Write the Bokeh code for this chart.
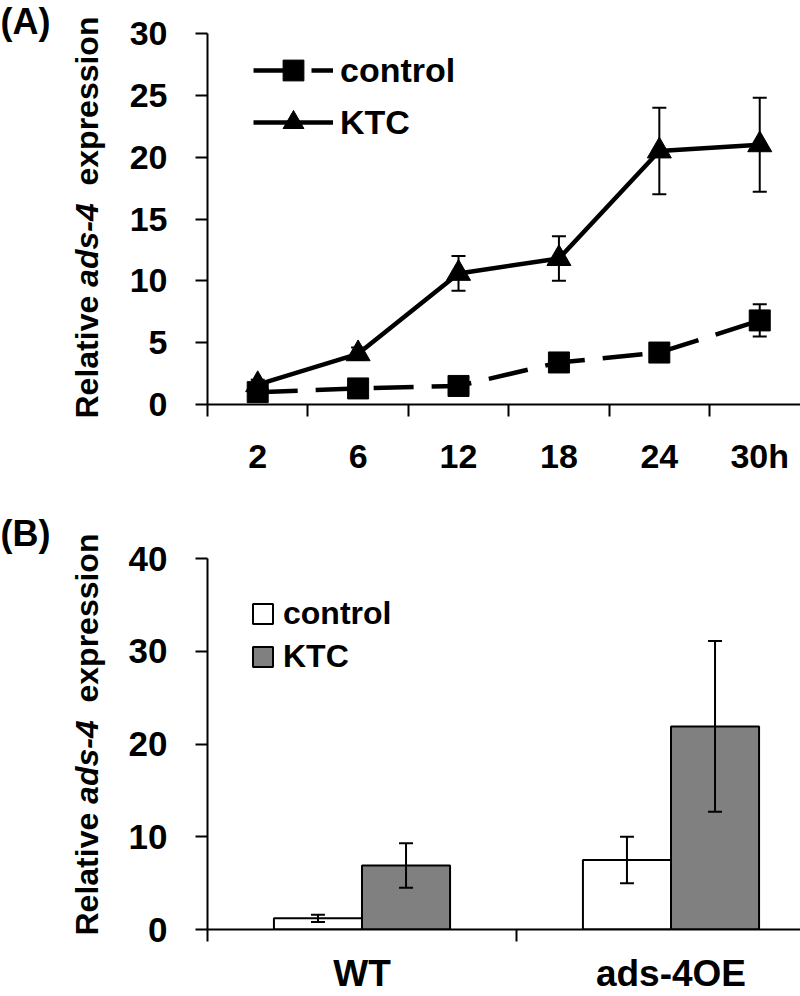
import math
from bokeh.plotting import figure
from bokeh.models import (Range1d, FixedTicker, Label, Whisker, TeeHead,
                          ColumnDataSource, Legend, LegendItem)
from bokeh.layouts import column, row
from bokeh.embed import file_html
from bokeh.resources import INLINE

# ---------------- data ----------------
hours = ["2", "6", "12", "18", "24", "30h"]
control_mean = [1.0, 1.3, 1.5, 3.4, 4.2, 6.8]
control_err = [0.3, 0.3, 0.3, 0.4, 0.4, 1.3]
ktc_mean = [1.6, 4.1, 10.6, 11.8, 20.5, 21.0]
ktc_err = [0.4, 0.5, 1.4, 1.8, 3.5, 3.8]

strains = ["WT", "ads-4OE"]
bar_control = [1.2, 7.5]
bar_control_err = [0.4, 2.5]
bar_ktc = [6.9, 21.9]
bar_ktc_err = [2.4, 9.2]

yticks_a = [0, 5, 10, 15, 20, 25, 30]
yticks_b = [0, 10, 20, 30, 40]

FONT = "Liberation Sans"
BOLD_W = {'R': .722, 'e': .556, 'l': .278, 'a': .556, 't': .333, 'i': .278,
          'v': .556, ' ': .278, 'd': .611, 's': .556, '-': .333, '4': .556,
          'x': .556, 'p': .611, 'r': .389, 'o': .611, 'n': .611}


def tw(s, size):
    return sum(BOLD_W.get(c, .6) for c in s) * size


def blank_fig(width, height):
    p = figure(width=width, height=height, output_backend="svg",
               toolbar_location=None, x_axis_location=None, y_axis_location=None,
               x_range=Range1d(0, 1), y_range=Range1d(0, 1),
               min_border_left=0, min_border_right=0, min_border_top=0,
               min_border_bottom=0)
    p.outline_line_color = None
    p.grid.visible = False
    p.background_fill_color = "white"
    p.border_fill_color = "white"
    return p


def style_axes(p, size):
    p.outline_line_color = None
    p.grid.grid_line_color = None
    p.background_fill_color = "white"
    p.border_fill_color = "white"
    for ax in p.axis:
        ax.axis_label = None
        ax.axis_line_width = 2
        ax.axis_line_color = "black"
        ax.major_tick_line_width = 2
        ax.minor_tick_line_width = 2
        ax.major_tick_in = 0
        ax.minor_tick_in = 0
        ax.major_label_text_font = FONT
        ax.major_label_text_font_style = "bold"
        ax.major_label_text_font_size = f"{size}px"
        ax.major_label_text_color = "black"


def add_ylabel(p, x, start_y, size=32):
    parts = [("Relative", "bold", "Relative "),
             ("ads-4", "bold italic", "ads-4  "),
             ("expression", "bold", "expression")]
    y = start_y
    for text, style, adv in parts:
        p.add_layout(Label(x=x, y=y, x_units="screen", y_units="screen",
                           angle=math.pi / 2, text=text, text_align="left",
                           text_baseline="middle", text_font=FONT,
                           text_font_style=style, text_font_size=f"{size}px",
                           text_color="black"))
        y += tw(adv, size)


def panel_tag(p, text, y):
    p.add_layout(Label(x=0, y=y, x_units="screen", y_units="screen", text=text,
                       text_align="left", text_baseline="top", text_font=FONT,
                       text_font_style="bold", text_font_size="36px",
                       text_color="black"))


def whiskers(p, src):
    p.add_layout(Whisker(base="x", upper="upper", lower="lower", source=src,
                         line_width=2, line_color="black", level="overlay",
                         upper_head=TeeHead(size=14, line_width=2, line_color="black"),
                         lower_head=TeeHead(size=14, line_width=2, line_color="black")))


LAB_W = 110
HA = 479
HB = 996 - HA

# ---------------- panel A ----------------
xa = [i + 0.5 for i in range(len(hours))]
pA = figure(width=800 - LAB_W, height=HA, output_backend="svg", toolbar_location=None,
            x_range=Range1d(0, 5.906), y_range=Range1d(0, 30),
            min_border_left=97, min_border_right=0, min_border_top=33,
            min_border_bottom=HA - 404)

src_c = ColumnDataSource(dict(x=xa, y=control_mean,
                              upper=[m + e for m, e in zip(control_mean, control_err)],
                              lower=[m - e for m, e in zip(control_mean, control_err)]))
src_k = ColumnDataSource(dict(x=xa, y=ktc_mean,
                              upper=[m + e for m, e in zip(ktc_mean, ktc_err)],
                              lower=[m - e for m, e in zip(ktc_mean, ktc_err)]))
whiskers(pA, src_c)
whiskers(pA, src_k)

rcl = pA.line("x", "y", source=src_c, line_color="black", line_width=4.5,
              line_dash="40 18")
rcs = pA.scatter("x", "y", source=src_c, marker="square", size=21,
                 fill_color="black", line_color="black")
rkl = pA.line("x", "y", source=src_k, line_color="black", line_width=4.5)
rks = pA.scatter("x", "y", source=src_k, marker="triangle", size=24,
                 fill_color="black", line_color="black")

pA.yaxis.ticker = FixedTicker(ticks=yticks_a)
pA.yaxis.major_tick_out = 12
pA.yaxis.major_label_standoff = 28
pA.xaxis.ticker = FixedTicker(ticks=xa, minor_ticks=list(range(len(hours))))
pA.xaxis.major_tick_out = 0
pA.xaxis.minor_tick_out = 12
pA.xaxis.major_label_standoff = 20
pA.xaxis.major_label_overrides = {x: h for x, h in zip(xa, hours)}
style_axes(pA, 34)

legA = Legend(items=[LegendItem(label="control", renderers=[rcl, rcs]),
                     LegendItem(label="KTC", renderers=[rkl, rks])],
              location=(46, 256), orientation="vertical", glyph_width=80,
              glyph_height=52, label_height=52, spacing=0, padding=0, margin=0,
              label_standoff=7, border_line_color=None, background_fill_alpha=0,
              label_text_font=FONT, label_text_font_style="bold",
              label_text_font_size="34px", label_text_color="black")
pA.add_layout(legA)

labA = blank_fig(LAB_W, HA)
add_ylabel(labA, 86, HA - 418)
panel_tag(labA, "(A)", HA)

# ---------------- panel B ----------------
xb = [i + 0.5 for i in range(len(strains))]
bw = 0.285
cat_w = 309.0  # px per category
pB = figure(width=800 - LAB_W, height=HB, output_backend="svg", toolbar_location=None,
            x_range=Range1d(0, 593 / cat_w), y_range=Range1d(0, 40),
            min_border_left=97, min_border_right=0, min_border_top=558 - HA,
            min_border_bottom=HA + HB - 929)

src_bc = ColumnDataSource(dict(x=[c - bw / 2 for c in xb], top=bar_control,
                               upper=[m + e for m, e in zip(bar_control, bar_control_err)],
                               lower=[m - e for m, e in zip(bar_control, bar_control_err)]))
src_bk = ColumnDataSource(dict(x=[c + bw / 2 for c in xb], top=bar_ktc,
                               upper=[m + e for m, e in zip(bar_ktc, bar_ktc_err)],
                               lower=[m - e for m, e in zip(bar_ktc, bar_ktc_err)]))
rbc = pB.vbar(x="x", top="top", width=bw, source=src_bc, fill_color="white",
              line_color="black", line_width=2)
rbk = pB.vbar(x="x", top="top", width=bw, source=src_bk, fill_color="#808080",
              line_color="black", line_width=2)
whiskers(pB, src_bc)
whiskers(pB, src_bk)

pB.yaxis.ticker = FixedTicker(ticks=yticks_b)
pB.yaxis.major_tick_out = 12
pB.yaxis.major_label_standoff = 28
pB.xaxis.ticker = FixedTicker(ticks=xb, minor_ticks=list(range(len(strains))))
pB.xaxis.major_tick_out = 0
pB.xaxis.minor_tick_out = 12
pB.xaxis.major_label_standoff = 11
pB.xaxis.major_label_overrides = {x: s for x, s in zip(xb, strains)}
style_axes(pB, 35)
pB.xaxis.major_label_text_font_size = "37px"

legB = Legend(items=[LegendItem(label="control", renderers=[rbc]),
                     LegendItem(label="KTC", renderers=[rbk])],
              location=(43, 254), orientation="vertical", glyph_width=25,
              glyph_height=25, label_height=25, spacing=6, padding=0, margin=0,
              label_standoff=8, border_line_color=None, background_fill_alpha=0,
              label_text_font=FONT, label_text_font_style="bold",
              label_text_font_size="32px", label_text_color="black")
pB.add_layout(legB)

labB = blank_fig(LAB_W, HB)
add_ylabel(labB, 86, HB - (935 - HA))
panel_tag(labB, "(B)", HB - (512 - HA))

layout = column(row(labA, column(pA, spacing=0), spacing=0),
                row(labB, column(pB, spacing=0), spacing=0),
                spacing=0)
open("out.html", "w").write(file_html(layout, INLINE, title="ads-4 expression"))
